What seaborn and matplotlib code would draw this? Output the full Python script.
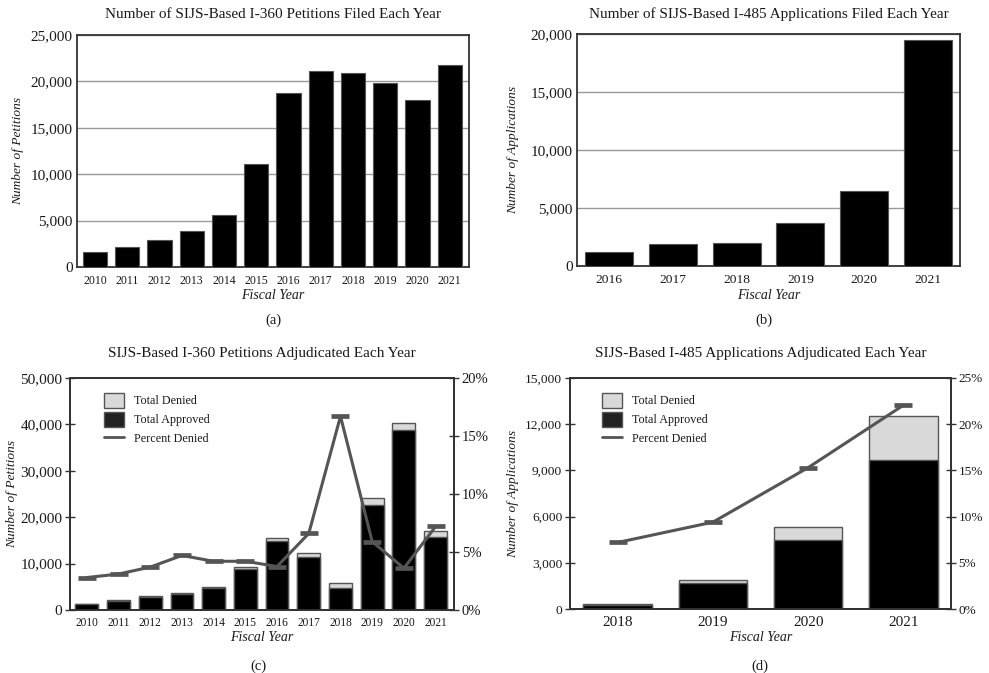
import numpy as np
import pandas as pd
import matplotlib
matplotlib.use("Agg")
import matplotlib.pyplot as plt
from matplotlib.ticker import FuncFormatter, MultipleLocator
from matplotlib.patches import Patch
from matplotlib.lines import Line2D
import seaborn as sns

# ---- data -------------------------------------------------------------
years_i360 = ["2010", "2011", "2012", "2013", "2014", "2015",
              "2016", "2017", "2018", "2019", "2020", "2021"]
i360_filed = [1620, 2160, 2880, 3880, 5600, 11100,
              18790, 21160, 20900, 19830, 17960, 21770]

years_i485_filed = ["2016", "2017", "2018", "2019", "2020", "2021"]
i485_filed = [1240, 1870, 1960, 3680, 6480, 19510]

i360_approved = [1190, 2010, 2900, 3550, 4740, 8800,
                 14920, 11460, 4780, 22680, 38860, 15780]
i360_denied = [35, 65, 110, 175, 210, 385,
               580, 810, 960, 1420, 1450, 1220]
i360_pct_denied = [2.8, 3.1, 3.7, 4.7, 4.2, 4.2,
                   3.75, 6.6, 16.7, 5.9, 3.6, 7.2]

years_i485_adj = ["2018", "2019", "2020", "2021"]
i485_approved = [280, 1690, 4500, 9700]
i485_denied = [22, 190, 840, 2810]
i485_pct_denied = [7.2, 9.4, 15.3, 22.05]

# ---- style ------------------------------------------------------------
sns.set_theme(style="white")
plt.rcParams["font.family"] = ["Liberation Serif", "DejaVu Serif"]
plt.rcParams["text.color"] = "#1a1a1a"
plt.rcParams["axes.labelcolor"] = "#1a1a1a"
plt.rcParams["xtick.color"] = "#1a1a1a"
plt.rcParams["ytick.color"] = "#1a1a1a"

SPINE = "#333333"
EDGE = "#555555"
GRID = "#9a9a9a"
LINE = "#555555"
DENIED = "#d9d9d9"

W, H = 989, 673
fig = plt.figure(figsize=(W / 100, H / 100), dpi=100)


def axes_px(left, top, right, bottom):
    return fig.add_axes([left / W, 1 - bottom / H, (right - left) / W, (bottom - top) / H])


comma = FuncFormatter(lambda v, p: f"{v:,.0f}")
pct_fmt = FuncFormatter(lambda v, p: f"{v:.0f}%")


def style_spines(ax):
    for s in ax.spines.values():
        s.set_visible(True)
        s.set_color(SPINE)
        s.set_linewidth(1.3)


def filed_panel(ax, years, values, title, ylabel, ymax, step, xfs, title_y):
    sns.barplot(x=years, y=values, ax=ax, color="black", saturation=1,
                edgecolor=EDGE, linewidth=0.8, width=0.75, zorder=3)
    ax.set_ylim(0, ymax)
    ax.yaxis.set_major_locator(MultipleLocator(step))
    ax.yaxis.set_major_formatter(comma)
    ax.grid(axis="y", color=GRID, linewidth=1.0, zorder=0)
    ax.set_axisbelow(True)
    style_spines(ax)
    ax.tick_params(axis="both", length=0, pad=4)
    ax.tick_params(axis="y", labelsize=11, pad=3)
    ax.tick_params(axis="x", labelsize=xfs, pad=6)
    ax.set_title(title, fontsize=11, y=title_y, pad=0, va="center")
    ax.set_xlabel("Fiscal Year", fontsize=10, style="italic")
    ax.set_ylabel(ylabel, fontsize=9.6, style="italic")


def adjudicated_panel(ax, years, approved, denied, pct, title, ylabel,
                      ymax, ystep, pmax, pstep, xfs, yfs, pfs, title_y, leg_anchor):
    totals = [a + d for a, d in zip(approved, denied)]
    sns.barplot(x=years, y=totals, ax=ax, color=DENIED, saturation=1,
                edgecolor=EDGE, linewidth=1.0, width=0.72, zorder=2)
    sns.barplot(x=years, y=approved, ax=ax, color="black", saturation=1,
                edgecolor=EDGE, linewidth=1.0, width=0.72, zorder=3)
    ax.set_ylim(0, ymax)
    ax.yaxis.set_major_locator(MultipleLocator(ystep))
    ax.yaxis.set_major_formatter(comma)
    style_spines(ax)
    ax.tick_params(axis="x", length=0, labelsize=xfs, pad=5)
    ax.tick_params(axis="y", direction="inout", length=7, width=1, color=SPINE,
                   labelsize=yfs, pad=2, left=True)

    ax2 = ax.twinx()
    sns.pointplot(x=years, y=pct, ax=ax2, color=LINE, markers="_",
                  linewidth=2.2, markersize=13, markeredgewidth=3.4, zorder=5)
    ax2.set_ylim(0, pmax)
    ax2.yaxis.set_major_locator(MultipleLocator(pstep))
    ax2.yaxis.set_major_formatter(pct_fmt)
    ax2.set_ylabel("")
    ax2.grid(False)
    style_spines(ax2)
    ax2.tick_params(axis="y", direction="inout", length=7, width=1, color=SPINE,
                    labelsize=pfs, pad=2, right=True)

    ax.set_title(title, fontsize=11, y=title_y, pad=0, va="center")
    ax.set_xlabel("Fiscal Year", fontsize=10, style="italic")
    ax.set_ylabel(ylabel, fontsize=9.6, style="italic")

    handles = [
        Patch(facecolor=DENIED, edgecolor=EDGE, linewidth=1.0, label="Total Denied"),
        Patch(facecolor="#222222", edgecolor=EDGE, linewidth=1.0, label="Total Approved"),
        Line2D([0], [0], color=LINE, linewidth=2, label="Percent Denied"),
    ]
    ax2.legend(handles=handles, loc="upper left", bbox_to_anchor=leg_anchor,
               frameon=False, fontsize=8.7, handlelength=1.7, handleheight=1.45,
               handletextpad=0.8, labelspacing=0.38, borderaxespad=0)
    return ax2


# (a) I-360 petitions filed
ax_a = axes_px(77, 35, 469, 267)
filed_panel(ax_a, years_i360, i360_filed,
            "Number of SIJS-Based I-360 Petitions Filed Each Year",
            "Number of Petitions", 25000, 5000, 8.5, 1.0905)
ax_a.set_xlim(-0.56, 11.6)

# (b) I-485 applications filed
ax_b = axes_px(577, 34, 960, 266)
filed_panel(ax_b, years_i485_filed, i485_filed,
            "Number of SIJS-Based I-485 Applications Filed Each Year",
            "Number of Applications", 20000, 5000, 9.7, 1.0875)
ax_b.set_xlim(-0.5, 5.5)

# (c) I-360 petitions adjudicated
ax_c = axes_px(70, 378, 454, 610)
ax_c2 = adjudicated_panel(ax_c, years_i360, i360_approved, i360_denied, i360_pct_denied,
                          "SIJS-Based I-360 Petitions Adjudicated Each Year",
                          "Number of Petitions", 50000, 10000, 20, 5,
                          8.3, 11, 10.5, 1.106, (0.075, 0.955))
ax_c.set_xlim(-0.53, 11.58)
ax_c2.set_xlim(-0.53, 11.58)

# (d) I-485 applications adjudicated
ax_d = axes_px(570, 378, 951, 609)
ax_d2 = adjudicated_panel(ax_d, years_i485_adj, i485_approved, i485_denied, i485_pct_denied,
                          "SIJS-Based I-485 Applications Adjudicated Each Year",
                          "Number of Applications", 15000, 3000, 25, 5,
                          11, 9.7, 9.5, 1.104, (0.07, 0.955))
ax_d.set_xlim(-0.5, 3.5)
ax_d2.set_xlim(-0.5, 3.5)

# axis label placement
for ax, xl, yl in [(ax_a, -0.125, -0.150), (ax_b, -0.129, -0.167),
                   (ax_c, -0.12, -0.151), (ax_d, -0.123, -0.150)]:
    ax.xaxis.set_label_coords(0.5, xl)
    ax.xaxis.label.set_va("center")
    ax.yaxis.set_label_coords(yl, 0.5)
    ax.yaxis.label.set_va("center")

# panel letters
for label, x, y in [("(a)", 273, 320), ("(b)", 764, 320), ("(c)", 258, 666), ("(d)", 760, 666)]:
    fig.text(x / W, 1 - y / H, label, ha="center", va="center", fontsize=10.5)

fig.savefig("out.png", dpi=100, facecolor="white")
